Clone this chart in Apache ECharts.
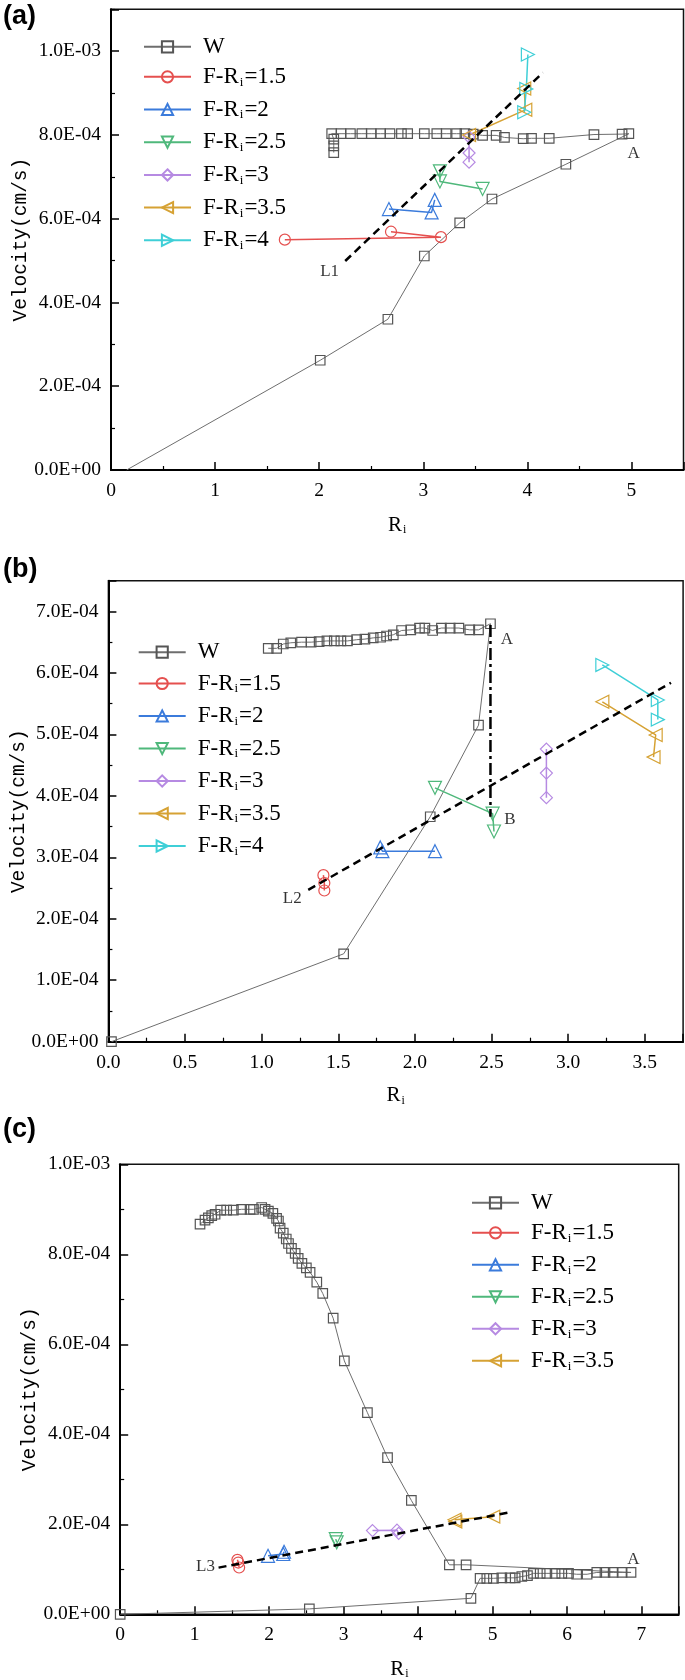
<!DOCTYPE html>
<html><head><meta charset="utf-8">
<script src="https://cdn.jsdelivr.net/npm/echarts/dist/echarts.min.js"></script>
<style>html,body{margin:0;padding:0;background:#fff}#c{width:685px;height:1680px}</style>
</head><body><div id="c"></div>
<script>
// ---------------- DATA ----------------
const SERIES_NAMES = ['W', 'F-Ri=1.5', 'F-Ri=2', 'F-Ri=2.5', 'F-Ri=3', 'F-Ri=3.5', 'F-Ri=4'];
const X_NAME = 'Ri';
const Y_NAME = 'Velocity(cm/s)';
const PANEL_LABELS = ['(a)', '(b)', '(c)'];

// Panel (a)
const A_W_x = [0.15, 2.01, 2.66, 3.01, 3.35, 3.66, 4.37, 4.975, 4.91, 4.64, 4.21, 4.04, 3.96, 3.78, 3.70, 3.57, 3.48, 3.40, 3.32, 3.22, 3.13, 3.01, 2.85, 2.79, 2.68, 2.59, 2.50, 2.41, 2.30, 2.21, 2.12, 2.14, 2.14, 2.14];
const A_W_y = [0, 2.62e-4, 3.60e-4, 5.11e-4, 5.90e-4, 6.47e-4, 7.30e-4, 8.03e-4, 8.02e-4, 8.01e-4, 7.92e-4, 7.92e-4, 7.91e-4, 7.94e-4, 7.99e-4, 7.99e-4, 8.02e-4, 8.03e-4, 8.03e-4, 8.03e-4, 8.03e-4, 8.03e-4, 8.03e-4, 8.03e-4, 8.03e-4, 8.03e-4, 8.03e-4, 8.03e-4, 8.03e-4, 8.03e-4, 8.03e-4, 7.90e-4, 7.74e-4, 7.58e-4];
const A_F15_x = [1.67, 3.17, 2.69];
const A_F15_y = [5.50e-4, 5.56e-4, 5.69e-4];
const A_F2_x = [2.67, 3.08, 3.11];
const A_F2_y = [6.23e-4, 6.15e-4, 6.45e-4];
const A_F25_x = [3.16, 3.16, 3.57];
const A_F25_y = [7.13e-4, 6.89e-4, 6.71e-4];
const A_F3_x = [3.44, 3.44, 3.44];
const A_F3_y = [7.95e-4, 7.57e-4, 7.35e-4];
const A_F35_x = [3.44, 3.98, 3.97];
const A_F35_y = [8.00e-4, 8.60e-4, 9.11e-4];
const A_F4_x = [3.97, 3.99, 4.005];
const A_F4_y = [8.54e-4, 9.10e-4, 9.92e-4];
const A_L1_x = [2.25, 4.15];
const A_L1_y = [4.99e-4, 9.49e-4];
const A_TXT = ['L1', 'A'];
const A_TXT_x = [2.10, 5.02];
const A_TXT_y = [4.73e-4, 7.55e-4];

// Panel (b)
const B_W_x = [0.02, 1.535, 2.10, 2.415, 2.493, 2.415, 2.358, 2.287, 2.23, 2.173, 2.116, 2.065, 2.03, 1.973, 1.913, 1.859, 1.815, 1.776, 1.728, 1.674, 1.62, 1.56, 1.517, 1.474, 1.426, 1.375, 1.323, 1.26, 1.19, 1.141, 1.098, 1.043];
const B_W_y = [0, 1.43e-4, 3.66e-4, 5.15e-4, 6.80e-4, 6.70e-4, 6.70e-4, 6.73e-4, 6.73e-4, 6.73e-4, 6.69e-4, 6.73e-4, 6.73e-4, 6.70e-4, 6.69e-4, 6.62e-4, 6.60e-4, 6.58e-4, 6.57e-4, 6.55e-4, 6.54e-4, 6.52e-4, 6.52e-4, 6.52e-4, 6.52e-4, 6.51e-4, 6.50e-4, 6.50e-4, 6.49e-4, 6.47e-4, 6.40e-4, 6.40e-4];
const B_F15_x = [1.403, 1.409, 1.409];
const B_F15_y = [2.71e-4, 2.58e-4, 2.46e-4];
const B_F2_x = [1.774, 1.788, 2.131];
const B_F2_y = [3.16e-4, 3.10e-4, 3.10e-4];
const B_F25_x = [2.131, 2.507, 2.516];
const B_F25_y = [4.13e-4, 3.71e-4, 3.42e-4];
const B_F3_x = [2.858, 2.858, 2.858];
const B_F3_y = [4.76e-4, 4.37e-4, 3.97e-4];
const B_F35_x = [3.223, 3.571, 3.557];
const B_F35_y = [5.53e-4, 4.99e-4, 4.63e-4];
const B_F4_x = [3.223, 3.585, 3.585];
const B_F4_y = [6.13e-4, 5.56e-4, 5.24e-4];
const B_L2_x = [1.304, 3.671];
const B_L2_y = [2.47e-4, 5.84e-4];
const B_AB_x = [2.493, 2.493];
const B_AB_y = [6.78e-4, 3.66e-4];
const B_TXT = ['A', 'B', 'L2'];
const B_TXT_x = [2.60, 2.62, 1.20];
const B_TXT_y = [6.55e-4, 3.61e-4, 2.33e-4];

// Panel (c)
const C_W_x = [0, 2.54, 4.71, 4.833, 4.923, 5.012, 5.125, 5.236, 5.304, 5.393, 5.469, 5.55, 5.64, 5.73, 5.84, 5.93, 6.02, 6.13, 6.27, 6.40, 6.51, 6.62, 6.74, 6.86, 4.645, 4.42, 3.91, 3.59, 3.32, 3.01, 2.86, 2.72, 2.64, 2.55, 2.50, 2.44, 2.39, 2.35, 2.30, 2.26, 2.23, 2.19, 2.147, 2.125, 2.10, 2.05, 1.99, 1.945, 1.90, 1.79, 1.744, 1.63, 1.52, 1.43, 1.35, 1.274, 1.229, 1.184, 1.139, 1.072];
const C_W_y = [0, 0.12e-4, 0.356e-4, 0.80e-4, 0.80e-4, 0.80e-4, 0.81e-4, 0.81e-4, 0.81e-4, 0.84e-4, 0.86e-4, 0.91e-4, 0.91e-4, 0.91e-4, 0.91e-4, 0.91e-4, 0.91e-4, 0.89e-4, 0.89e-4, 0.93e-4, 0.93e-4, 0.93e-4, 0.93e-4, 0.93e-4, 1.10e-4, 1.10e-4, 2.53e-4, 3.48e-4, 4.48e-4, 5.63e-4, 6.58e-4, 7.13e-4, 7.38e-4, 7.60e-4, 7.70e-4, 7.80e-4, 7.91e-4, 8.02e-4, 8.13e-4, 8.24e-4, 8.34e-4, 8.47e-4, 8.58e-4, 8.74e-4, 8.80e-4, 8.91e-4, 8.96e-4, 9.00e-4, 9.04e-4, 9.00e-4, 9.00e-4, 9.00e-4, 8.98e-4, 8.98e-4, 8.98e-4, 8.89e-4, 8.86e-4, 8.81e-4, 8.76e-4, 8.67e-4];
const C_F15_x = [1.574, 1.586, 1.597];
const C_F15_y = [1.21e-4, 1.15e-4, 1.04e-4];
const C_F2_x = [1.985, 2.19, 2.20];
const C_F2_y = [1.30e-4, 1.34e-4, 1.39e-4];
const C_F25_x = [2.895, 2.907];
const C_F25_y = [1.67e-4, 1.60e-4];
const C_F3_x = [3.388, 3.717, 3.74];
const C_F3_y = [1.86e-4, 1.87e-4, 1.80e-4];
const C_F35_x = [4.49, 4.50, 5.01];
const C_F35_y = [2.10e-4, 2.06e-4, 2.17e-4];
const C_L3_x = [1.321, 5.214];
const C_L3_y = [1.037e-4, 2.26e-4];
const C_TXT = ['L3', 'A'];
const C_TXT_x = [1.145, 6.89];
const C_TXT_y = [1.06e-4, 1.21e-4];

// ---------------- STYLE ----------------
const SERIF = 'Liberation Serif';
const MONO = 'Liberation Mono';
const STY = {
  'W':        {c: '#555555', lc: '#6e6e6e', lw: 1,   sym: 'rect',     size: 9.5, rot: 0},
  'F-Ri=1.5': {c: '#e5504f', lc: '#e5504f', lw: 1.5, sym: 'circle',   size: 11, rot: 0},
  'F-Ri=2':   {c: '#3b7bdb', lc: '#3b7bdb', lw: 1.5, sym: 'triangle', size: 13, rot: 0},
  'F-Ri=2.5': {c: '#4fb87b', lc: '#4fb87b', lw: 1.5, sym: 'triangle', size: 13, rot: 180},
  'F-Ri=3':   {c: '#b68ae2', lc: '#b68ae2', lw: 1.5, sym: 'diamond',  size: 12, rot: 0},
  'F-Ri=3.5': {c: '#d6a234', lc: '#d6a234', lw: 1.5, sym: 'triangle', size: 13, rot: 90},
  'F-Ri=4':   {c: '#3fcfd7', lc: '#3fcfd7', lw: 1.5, sym: 'triangle', size: 13, rot: -90}
};

function fmtE(v) {
  if (Math.abs(v) < 1e-12) return '0.0E+00';
  let e = Math.floor(Math.log10(Math.abs(v)) + 1e-9);
  let ms = (v / Math.pow(10, e)).toFixed(1);
  if (parseFloat(ms) >= 10) { e += 1; ms = (v / Math.pow(10, e)).toFixed(1); }
  return ms + 'E' + (e < 0 ? '-' : '+') + String(Math.abs(e)).padStart(2, '0');
}

function zip(xs, ys) { return xs.map((x, i) => [x, ys[i]]); }

function dataSeries(name, xs, ys, gi, hideFirst) {
  const s = STY[name];
  const data = zip(xs, ys).map((p, i) => (hideFirst && i === 0) ? {value: p, symbol: 'none'} : p);
  return {
    type: 'line', name, xAxisIndex: gi, yAxisIndex: gi, data,
    symbol: s.sym, symbolSize: s.size, symbolRotate: s.rot,
    lineStyle: {color: s.lc, width: s.lw},
    itemStyle: {color: 'rgba(0,0,0,0)', borderColor: s.c, borderWidth: 1.2},
    emphasis: {disabled: true}, animation: false, z: 3
  };
}

function refLine(xs, ys, gi, type) {
  return {
    type: 'line', xAxisIndex: gi, yAxisIndex: gi, data: zip(xs, ys),
    symbol: 'none', silent: true, lineStyle: {color: '#000', width: 2.5, type},
    emphasis: {disabled: true}, animation: false, z: 5
  };
}

function textSeries(txt, xs, ys, gi) {
  return {
    type: 'scatter', xAxisIndex: gi, yAxisIndex: gi, silent: true, symbolSize: 0,
    data: txt.map((t, i) => ({value: [xs[i], ys[i]], name: t})),
    label: {show: true, position: 'inside', formatter: p => p.name, fontFamily: SERIF, fontSize: 17, color: '#000'},
    animation: false, z: 6
  };
}

const RICH_AX = {
  r: {fontFamily: SERIF, fontSize: 21, lineHeight: 22, color: '#000'},
  s: {fontFamily: SERIF, fontSize: 12, lineHeight: 12, verticalAlign: 'bottom', padding: [16, 0, 0, 1], color: '#000'}
};
const RICH_LEG = {
  f: {fontFamily: SERIF, fontSize: 23, lineHeight: 24, padding: [0, 0, 0, 7], color: '#000'},
  m: {fontFamily: SERIF, fontSize: 23, lineHeight: 24, color: '#000'},
  s: {fontFamily: SERIF, fontSize: 13, lineHeight: 13, verticalAlign: 'bottom', padding: [18, 1, 0, 1], color: '#000'}
};
function fmtLegend(name) {
  const m = name.match(/^F-Ri=(.+)$/);
  return m ? '{f|F-R}{s|i}{m|=' + m[1] + '}' : '{f|' + name + '}';
}
function legend(left, top, names, gap) {
  return {orient: 'vertical', left, top, data: names, itemWidth: 47, itemHeight: 14, itemGap: gap,
    padding: 0, selectedMode: false, formatter: fmtLegend,
    textStyle: {color: '#000', fontFamily: SERIF, fontSize: 23, rich: RICH_LEG}};
}

function xAx(gi, max, interval, decimals, nameGap) {
  return {
    type: 'value', gridIndex: gi, min: 0, max, interval,
    name: '{r|R}{s|i}', nameLocation: 'middle', nameGap, nameMoveOverlap: false,
    nameTextStyle: {rich: RICH_AX},
    axisLine: {onZero: false, lineStyle: {color: '#000', width: 2}},
    axisTick: {inside: true, length: 8, lineStyle: {color: '#000', width: 1.5}},
    minorTick: {show: true, splitNumber: 2, length: 4, lineStyle: {color: '#000', width: 1.2}},
    axisLabel: {formatter: v => v.toFixed(decimals), margin: 11, showMaxLabel: false,
      fontFamily: SERIF, fontSize: 19.5, color: '#000'},
    splitLine: {show: false}, minorSplitLine: {show: false}
  };
}
function yAx(gi, max, interval, showMax, nameGap) {
  return {
    type: 'value', gridIndex: gi, min: 0, max, interval,
    name: Y_NAME, nameLocation: 'middle', nameGap, nameMoveOverlap: false,
    nameTextStyle: {fontFamily: MONO, fontSize: 19.5, color: '#000'},
    axisLine: {onZero: false, lineStyle: {color: '#000', width: 2}},
    axisTick: {inside: true, length: 8, lineStyle: {color: '#000', width: 1.5}},
    minorTick: {show: true, splitNumber: 2, length: 4, lineStyle: {color: '#000', width: 1.2}},
    axisLabel: {formatter: fmtE, margin: 10, showMaxLabel: showMax,
      fontFamily: SERIF, fontSize: 19.5, color: '#000'},
    splitLine: {show: false}, minorSplitLine: {show: false}
  };
}
function grid(left, top, width, height) {
  return {left, top, width, height, show: true, borderColor: '#111', borderWidth: 1.5,
    backgroundColor: 'transparent', containLabel: false, outerBoundsMode: 'none'};
}
function title(text, top) {
  return {text, left: 3, top, padding: 0,
    textStyle: {fontFamily: 'Liberation Sans', fontWeight: 'bold', fontSize: 27, color: '#000'}};
}

const Fnames = SERIES_NAMES.slice(1);
const option = {
  backgroundColor: '#fff',
  animation: false,
  title: [title(PANEL_LABELS[0], 3), title(PANEL_LABELS[1], 556), title(PANEL_LABELS[2], 1116)],
  grid: [grid(111, 9.3, 572.5, 460.7), grid(108.4, 580.7, 574.7, 461), grid(120.2, 1164.3, 558.5, 450)],
  xAxis: [xAx(0, 5.5, 1, 0, 44), xAx(1, 3.75, 0.5, 1, 43), xAx(2, 7.5, 1, 0, 44)],
  yAxis: [yAx(0, 1.1e-3, 2e-4, false, 80), yAx(1, 7.5e-4, 1e-4, false, 80), yAx(2, 1e-3, 2e-4, true, 80)],
  legend: [
    legend(143, 47.3 - 12, ['W'], 0),
    legend(143, 73.3 - 15.5, Fnames, 1.7),
    legend(137.7, 652.7 - 12, ['W'], 0),
    legend(137.7, 680 - 15.5, Fnames, 1.5),
    legend(471, 1203.3 - 12, ['W'], 0),
    legend(471, 1229.3 - 15.5, Fnames.slice(0, 5), 1)
  ],
  series: [
    dataSeries('W', A_W_x, A_W_y, 0, true),
    dataSeries('F-Ri=1.5', A_F15_x, A_F15_y, 0),
    dataSeries('F-Ri=2', A_F2_x, A_F2_y, 0),
    dataSeries('F-Ri=2.5', A_F25_x, A_F25_y, 0),
    dataSeries('F-Ri=3', A_F3_x, A_F3_y, 0),
    dataSeries('F-Ri=3.5', A_F35_x, A_F35_y, 0),
    dataSeries('F-Ri=4', A_F4_x, A_F4_y, 0),
    refLine(A_L1_x, A_L1_y, 0, [8, 5]),
    textSeries(A_TXT, A_TXT_x, A_TXT_y, 0),

    dataSeries('W', B_W_x, B_W_y, 1),
    dataSeries('F-Ri=1.5', B_F15_x, B_F15_y, 1),
    dataSeries('F-Ri=2', B_F2_x, B_F2_y, 1),
    dataSeries('F-Ri=2.5', B_F25_x, B_F25_y, 1),
    dataSeries('F-Ri=3', B_F3_x, B_F3_y, 1),
    dataSeries('F-Ri=3.5', B_F35_x, B_F35_y, 1),
    dataSeries('F-Ri=4', B_F4_x, B_F4_y, 1),
    refLine(B_L2_x, B_L2_y, 1, [8, 5]),
    refLine(B_AB_x, B_AB_y, 1, [12, 4, 3, 4]),
    textSeries(B_TXT, B_TXT_x, B_TXT_y, 1),

    dataSeries('W', C_W_x, C_W_y, 2),
    dataSeries('F-Ri=1.5', C_F15_x, C_F15_y, 2),
    dataSeries('F-Ri=2', C_F2_x, C_F2_y, 2),
    dataSeries('F-Ri=2.5', C_F25_x, C_F25_y, 2),
    dataSeries('F-Ri=3', C_F3_x, C_F3_y, 2),
    dataSeries('F-Ri=3.5', C_F35_x, C_F35_y, 2),
    refLine(C_L3_x, C_L3_y, 2, [8, 5]),
    textSeries(C_TXT, C_TXT_x, C_TXT_y, 2)
  ]
};
const chart = echarts.init(document.getElementById('c'), null, {renderer: 'canvas'});
chart.setOption(option);
</script></body></html>
